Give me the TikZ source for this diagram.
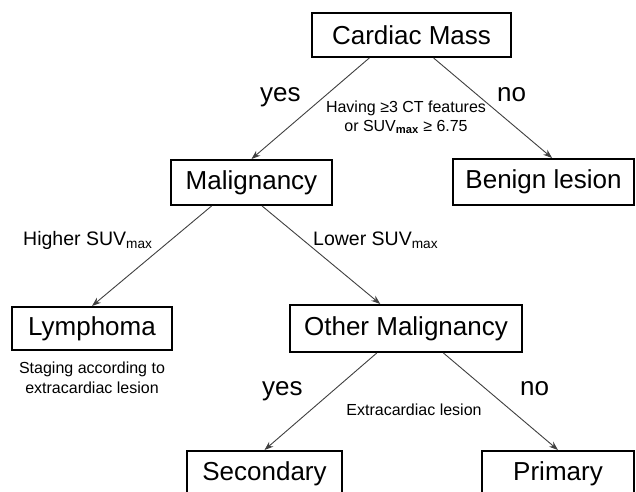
\documentclass[tikz,border=0pt]{standalone}
\usepackage{fontspec}
\setmainfont{Liberation Sans}
\usetikzlibrary{calc,arrows.meta}
\tikzset{
  box/.style={draw=black, line width=2pt, fill=white, inner sep=0pt,
    font=\fontsize{26}{30}\selectfont, text=black},
  conn/.style={draw=black!75, line width=0.9pt, -{Stealth[length=9pt,width=6.5pt]}},
  biglbl/.style={font=\fontsize{26}{30}\selectfont, inner sep=0pt, text=black},
  midlbl/.style={font=\fontsize{19.5}{22}\selectfont, inner sep=0pt, text=black},
  smalllbl/.style={font=\fontsize{16}{19}\selectfont, inner sep=0pt, text=black, align=center}
}
\begin{document}
\begin{tikzpicture}[x=1pt,y=-1pt]
\useasboundingbox (0,0) rectangle (636,491);
\clip (0,0) rectangle (636,491);
\fill[white] (0,0) rectangle (636,491);
% boxes
\node[box, minimum width=199pt, minimum height=44pt] (cm) at (411.5,35) {Cardiac Mass};
\node[box, minimum width=161pt, minimum height=45pt] (mal) at (251.5,182.5) {Malignancy};
\node[box, minimum width=181pt, minimum height=46pt] (ben) at (543.5,182) {Benign lesion};
\node[box, minimum width=160pt, minimum height=43pt] (lym) at (92,328.5) {Lymphoma};
\node[box, minimum width=232pt, minimum height=47pt] (om) at (406,328.5) {Other Malignancy};
\node[box, minimum width=155pt, minimum height=45pt] (sec) at (264.5,473.5) {Secondary};
\node[box, minimum width=152pt, minimum height=45pt] (pri) at (558,473.5) {Primary};
% connectors
\draw[conn] ($(cm.south west)!0.29!(cm.south east)$) -- (mal.north);
\draw[conn] ($(cm.south west)!0.61!(cm.south east)$) -- ($(ben.north west)!0.547!(ben.north east)$);
\draw[conn] ($(mal.south west)!0.255!(mal.south east)$) -- (lym.north);
\draw[conn] ($(mal.south west)!0.565!(mal.south east)$) -- ($(om.north west)!0.39!(om.north east)$);
\draw[conn] ($(om.south west)!0.375!(om.south east)$) -- (sec.north);
\draw[conn] ($(om.south west)!0.66!(om.south east)$) -- (pri.north);
% labels
\node[biglbl, anchor=base west] (yes1) at (260,101) {yes};
\node[biglbl, anchor=base west] (no1) at (497,101) {no};
\node[smalllbl, anchor=base] (crit1) at (406,112) {Having ≥3 CT features};
\node[smalllbl, anchor=base] (crit2) at (406,131) {or SUV\textsubscript{\textbf{max}} ≥ 6.75};
\node[midlbl, anchor=base west] (hi) at (23,245) {Higher SUV\textsubscript{max}};
\node[midlbl, anchor=base west] (lo) at (313,245) {Lower SUV\textsubscript{max}};
\node[smalllbl, anchor=base] (stg1) at (92,373) {Staging according to};
\node[smalllbl, anchor=base] (stg2) at (92,393) {extracardiac lesion};
\node[biglbl, anchor=base west] (yes2) at (262,395) {yes};
\node[biglbl, anchor=base west] (no2) at (520,395) {no};
\node[smalllbl, anchor=base] (ext) at (414,415) {Extracardiac lesion};
\end{tikzpicture}
\end{document}
